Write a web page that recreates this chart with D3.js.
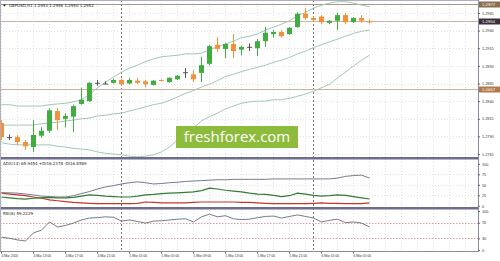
<!DOCTYPE html>
<html>
<head>
<meta charset="utf-8">
<script src="https://cdn.jsdelivr.net/npm/d3@7"></script>
<style>
  body { margin: 0; background: #fff; }
  svg { display: block; font-family: "DejaVu Sans", sans-serif; }
</style>
</head>
<body>
<svg id="chart" width="500" height="261"></svg>
<script>
// GBPUSD H1, first bar = 4 Mar 2020 09:00
let open  = [1.2809,1.2789,1.2789,1.2782,1.2775,1.2791,1.2798,1.2826,1.2815,1.2818,1.2836,1.2840,1.2866,1.2865,1.2866,1.2870,1.2865,1.2869,1.2868,1.2863,1.2870,1.2867,1.2871,1.2881,1.2878,1.2880,1.2893,1.2920,1.2914,1.2921,1.2913,1.2917,1.2915,1.2925,1.2935,1.2938,1.2935,1.2945,1.2964,1.2958,1.2960,1.2951,1.2954,1.2962,1.2952,1.2958,1.2953];
let high  = [1.2813,1.2793,1.2792,1.2785,1.2813,1.2803,1.2830,1.2830,1.2823,1.2835,1.2859,1.2867,1.2870,1.2868,1.2872,1.2872,1.2873,1.2873,1.2870,1.2870,1.2871,1.2874,1.2877,1.2887,1.2884,1.2903,1.2920,1.2931,1.2922,1.2935,1.2918,1.2922,1.2928,1.2945,1.2941,1.2941,1.2945,1.2966,1.2972,1.2960,1.2962,1.2955,1.2965,1.2965,1.2959,1.2962,1.2956];
let low   = [1.2785,1.2785,1.2778,1.2771,1.2768,1.2788,1.2795,1.2799,1.2803,1.2796,1.2835,1.2839,1.2862,1.2864,1.2865,1.2862,1.2864,1.2864,1.2860,1.2862,1.2868,1.2866,1.2870,1.2873,1.2867,1.2867,1.2891,1.2910,1.2901,1.2901,1.2905,1.2911,1.2904,1.2917,1.2930,1.2930,1.2934,1.2944,1.2955,1.2952,1.2949,1.2949,1.2941,1.2949,1.2951,1.2951,1.2950];
let close = [1.2789,1.2789,1.2782,1.2776,1.2792,1.2798,1.2827,1.2813,1.2819,1.2833,1.2842,1.2866,1.2866,1.2865,1.2870,1.2864,1.2870,1.2866,1.2864,1.2869,1.2869,1.2873,1.2876,1.2881,1.2871,1.2891,1.2918,1.2914,1.2921,1.2911,1.2917,1.2917,1.2925,1.2937,1.2938,1.2932,1.2944,1.2964,1.2958,1.2955,1.2952,1.2954,1.2962,1.2952,1.2958,1.2954,1.2952];

// Bollinger bands
let bbUpper = [1.2835,1.2835,1.2833,1.2833,1.2833,1.2833,1.2835,1.2836,1.2837,1.2839,1.2842,1.2849,1.2859,1.2867,1.2874,1.2881,1.2887,1.2891,1.2896,1.2900,1.2903,1.2904,1.2905,1.2907,1.2907,1.2908,1.2913,1.2917,1.2921,1.2925,1.2930,1.2932,1.2935,1.2941,1.2945,1.2949,1.2954,1.2961,1.2966,1.2972,1.2976,1.2979,1.2981,1.2981,1.2979,1.2976,1.2974];
let bbMid   = [1.2806,1.2806,1.2806,1.2806,1.2806,1.2808,1.2809,1.2810,1.2812,1.2813,1.2815,1.2816,1.2819,1.2820,1.2822,1.2823,1.2826,1.2829,1.2832,1.2835,1.2837,1.2841,1.2846,1.2851,1.2855,1.2860,1.2864,1.2869,1.2875,1.2878,1.2882,1.2885,1.2888,1.2891,1.2895,1.2898,1.2902,1.2907,1.2911,1.2916,1.2920,1.2924,1.2928,1.2932,1.2936,1.2939,1.2941];
let bbLower = [1.2781,1.2779,1.2778,1.2778,1.2778,1.2778,1.2778,1.2776,1.2775,1.2773,1.2772,1.2771,1.2768,1.2766,1.2765,1.2764,1.2762,1.2761,1.2762,1.2764,1.2768,1.2775,1.2785,1.2793,1.2802,1.2812,1.2818,1.2823,1.2829,1.2833,1.2837,1.2839,1.2840,1.2840,1.2842,1.2842,1.2844,1.2847,1.2850,1.2854,1.2859,1.2864,1.2873,1.2881,1.2890,1.2898,1.2905];

// ADX(14)
let adx     = [31,31,30,28,26,23,22,21,21,24,29,34,40,45,48,52,55,57,55,52,53,55,56,58,59,60,61,62,62,63,63,63,63,63,64,64,64,64,64,64,64,64,66,70,72,73,65.9];
let plusDI  = [21,19,17,16,18,19,20,19,19,20,23,26,25,23,22,21,21,23,26,27,29,30,31,32,33,36,42,40,37,35,33,30,28,27,25,22,24,30,28,25,23,24,26,25,22,19,16.2];
let minusDI = [30,28,26,24,21,18,14,12,10,8,7,6,5,5,5,5,5,6,9,8,7,7,7,7,8,9,9,9,9,9,8,8,7,6,5,5,5,5,5,6,7,6,6,5,5,5,6.9];

// RSI(8)
let rsi = [33,30,26,23,44,51,72,59,63,69,77,82,83,85,84,74,77,73,69,74,75,77,79,80,72,85,92,85,88,80,78,79,83,86,87,82,86,90,86,82,72,76,79,70,72,69,59.2];

let priceTicks = [1.2965,1.2940,1.2915,1.2890,1.2865,1.2840,1.2815,1.2790,1.2765];
let adxTicks = [0,25,50,75,100];
let rsiTicks = [0,30,70,100];
let rsiLevels = [70,30];
let levelPrices = [1.2978,1.2954,1.2857];
let levelLabels = ["1.2977","1.2954","1.2857"];
let timeIdx = [0,4,8,12,16,20,24,28,32,36,40,44];
let timeLabels = ["4 Mar 2020","4 Mar 13:00","4 Mar 17:00","4 Mar 21:00","5 Mar 01:00","5 Mar 05:00","5 Mar 09:00","5 Mar 13:00","5 Mar 17:00","5 Mar 21:00","6 Mar 01:00","6 Mar 05:00"];
let dayIdx = [15,39];

let svg = d3.select("#chart");
let right = 478;
let main = {top: 0, bottom: 157};
let adxBox = {top: 159.5, bottom: 207};
let rsiBox = {top: 209.5, bottom: 251};

let x = d3.scaleLinear().domain([0, 59.625]).range([1, right]);
let y = d3.scaleLinear().domain([1.27608, 1.29834]).range([main.bottom, main.top]);
let yAdx = d3.scaleLinear().domain([0, 100]).range([205.8, 163.8]);
let yRsi = d3.scaleLinear().domain([0, 100]).range([250, 211]);
let idx = d3.range(open.length);

svg.append("rect").attr("width", 500).attr("height", 261).attr("fill", "#fff");

// grid
let grid = svg.append("g").attr("stroke", "#d9d9de").attr("stroke-dasharray", "1,2").attr("stroke-width", 0.8);
grid.selectAll(".vg").data(d3.range(0, 60, 2)).enter().append("line")
  .attr("x1", d => Math.round(x(d)) + 0.5).attr("x2", d => Math.round(x(d)) + 0.5)
  .attr("y1", 0).attr("y2", rsiBox.bottom);
grid.selectAll(".hg").data(priceTicks).enter().append("line")
  .attr("x1", 0).attr("x2", right).attr("y1", d => Math.round(y(d)) + 0.5).attr("y2", d => Math.round(y(d)) + 0.5);
grid.selectAll(".ag").data([25, 50, 75]).enter().append("line")
  .attr("x1", 0).attr("x2", right).attr("y1", d => Math.round(yAdx(d)) + 0.5).attr("y2", d => Math.round(yAdx(d)) + 0.5);

svg.append("g").selectAll("line").data(rsiLevels).enter().append("line")
  .attr("x1", 0).attr("x2", right)
  .attr("y1", d => Math.round(yRsi(d)) + 0.5).attr("y2", d => Math.round(yRsi(d)) + 0.5)
  .attr("stroke", "#d08a8a").attr("stroke-dasharray", "1.5,1.5").attr("stroke-width", 0.8);

// day separators
svg.append("g").selectAll("line").data(dayIdx).enter().append("line")
  .attr("x1", d => x(d) + 0.5).attr("x2", d => x(d) + 0.5)
  .attr("y1", 0).attr("y2", rsiBox.bottom)
  .attr("stroke", "#555").attr("stroke-dasharray", "2,2").attr("stroke-width", 0.8);

// horizontal price levels
svg.append("g").selectAll("line").data(levelPrices).enter().append("line")
  .attr("x1", 0).attr("x2", right)
  .attr("y1", d => Math.round(y(d)) + 0.5).attr("y2", d => Math.round(y(d)) + 0.5)
  .attr("stroke", (d, i) => i == 0 ? "#a8998c" : "#c9b39e").attr("stroke-width", 1.2);

// bollinger bands
let bandLine = arr => d3.line().x(i => x(i) + 0.5).y(i => y(arr[i]))(idx);
[bbUpper, bbMid, bbLower].forEach(arr => {
  svg.append("path").attr("d", bandLine(arr))
    .attr("fill", "none").attr("stroke", "#9fc9b6").attr("stroke-width", 1);
});

// candles
let bull = "#41ad41", bear = "#f2913a", doji = "#555";
let colorOf = i => close[i] > open[i] ? bull : (close[i] < open[i] ? bear : doji);
let candles = svg.append("g");
candles.selectAll("line").data(idx).enter().append("line")
  .attr("x1", i => x(i) + 0.5).attr("x2", i => x(i) + 0.5)
  .attr("y1", i => y(high[i])).attr("y2", i => y(low[i]))
  .attr("stroke", colorOf).attr("stroke-width", 1);
candles.selectAll("rect").data(idx).enter().append("rect")
  .attr("x", i => x(i) - 2).attr("width", 5)
  .attr("y", i => y(Math.max(open[i], close[i])))
  .attr("height", i => Math.max(1, Math.abs(y(open[i]) - y(close[i]))))
  .attr("fill", colorOf);

// watermark
let wm = svg.append("g");
wm.append("rect").attr("x", 176).attr("y", 126).attr("width", 122).attr("height", 22)
  .attr("fill", "#8dbb3c");
wm.append("text").attr("x", 237).attr("y", 142).attr("text-anchor", "middle")
  .attr("fill", "#fff").attr("font-size", 15).attr("font-family", "Open Sans, sans-serif")
  .text("freshforex.com");

// ADX lines
let adxLine = arr => d3.line().x(i => x(i) + 0.5).y(i => yAdx(arr[i]))(idx);
svg.append("path").attr("d", adxLine(minusDI)).attr("fill", "none").attr("stroke", "#c0392b").attr("stroke-width", 1.2);
svg.append("path").attr("d", adxLine(plusDI)).attr("fill", "none").attr("stroke", "#2e7d32").attr("stroke-width", 1.2);
svg.append("path").attr("d", adxLine(adx)).attr("fill", "none").attr("stroke", "#6a6a80").attr("stroke-width", 0.9);

// RSI line
svg.append("path").attr("d", d3.line().x(i => x(i) + 0.5).y(i => yRsi(rsi[i]))(idx))
  .attr("fill", "none").attr("stroke", "#6a6a80").attr("stroke-width", 0.9);

// panel frames
svg.append("rect").attr("x", 0).attr("y", main.bottom).attr("width", right).attr("height", 2.5).attr("fill", "#6d6d8c");
svg.append("rect").attr("x", 0).attr("y", adxBox.bottom).attr("width", right).attr("height", 2.5).attr("fill", "#6d6d8c");
svg.append("line").attr("x1", 0).attr("x2", right).attr("y1", rsiBox.bottom + 0.5).attr("y2", rsiBox.bottom + 0.5).attr("stroke", "#8a8aa0");
svg.append("line").attr("x1", right + 0.5).attr("x2", right + 0.5).attr("y1", 0).attr("y2", rsiBox.bottom + 1).attr("stroke", "#8a8aa0");
svg.append("line").attr("x1", 0).attr("x2", right).attr("y1", 0.5).attr("y2", 0.5).attr("stroke", "#b0b0bc");
svg.append("line").attr("x1", 0.5).attr("x2", 0.5).attr("y1", 0).attr("y2", rsiBox.bottom).attr("stroke", "#b0b0bc");

// axes
function styleAxis(g, size) {
  g.select(".domain").remove();
  g.selectAll(".tick line").attr("stroke", "#666");
  g.selectAll(".tick text").attr("fill", "#333").attr("font-size", size);
}
svg.append("g").attr("transform", "translate(" + right + ",0)")
  .call(d3.axisRight(y).tickValues(priceTicks).tickFormat(d3.format(".4f")).tickSize(2).tickPadding(2))
  .call(g => styleAxis(g, 3.8));
svg.append("g").attr("transform", "translate(" + right + ",0)")
  .call(d3.axisRight(yAdx).tickValues(adxTicks).tickSize(2).tickPadding(2))
  .call(g => styleAxis(g, 3.8));
svg.append("g").attr("transform", "translate(" + right + ",0)")
  .call(d3.axisRight(yRsi).tickValues(rsiTicks).tickSize(2).tickPadding(2))
  .call(g => styleAxis(g, 3.8));

// price level boxes
let boxes = svg.append("g");
levelPrices.forEach((p, i) => {
  let yy = Math.round(y(p)) + 0.5;
  boxes.append("rect").attr("x", right + 1).attr("y", yy - 3).attr("width", 21).attr("height", 6)
    .attr("fill", i == 1 ? "#3d2f3a" : (i == 0 ? "#8e6e50" : "#b07a4c"));
  boxes.append("text").attr("x", right + 4).attr("y", yy + 1.4).attr("font-size", 3.8)
    .attr("fill", "#fff").text(levelLabels[i]);
});

// time axis
let tAxis = svg.append("g").attr("transform", "translate(0," + (rsiBox.bottom + 1) + ")")
  .call(d3.axisBottom(x).tickValues(timeIdx).tickSize(1.5).tickPadding(1)
    .tickFormat((d, i) => timeLabels[i]));
tAxis.select(".domain").remove();
tAxis.selectAll(".tick line").attr("stroke", "#666");
tAxis.selectAll(".tick text").attr("text-anchor", "start").attr("fill", "#333").attr("font-size", 3.3);

// titles
svg.append("path").attr("d", "M3,4.5 L6,4.5 L4.5,6.8 Z").attr("fill", "#222");
svg.append("text").attr("x", 9).attr("y", 7.3).attr("font-size", 4).attr("fill", "#222")
  .text("GBPUSD,H1 1.2953 1.2956 1.2950 1.2952");
svg.append("text").attr("x", 3).attr("y", 165).attr("font-size", 4).attr("fill", "#222")
  .text("ADX(14) 65.9454 +DI16.2378 -DI16.8589");
svg.append("text").attr("x", 3).attr("y", 214.5).attr("font-size", 4).attr("fill", "#222")
  .text("RSI(8) 59.2229");
</script>
</body>
</html>
